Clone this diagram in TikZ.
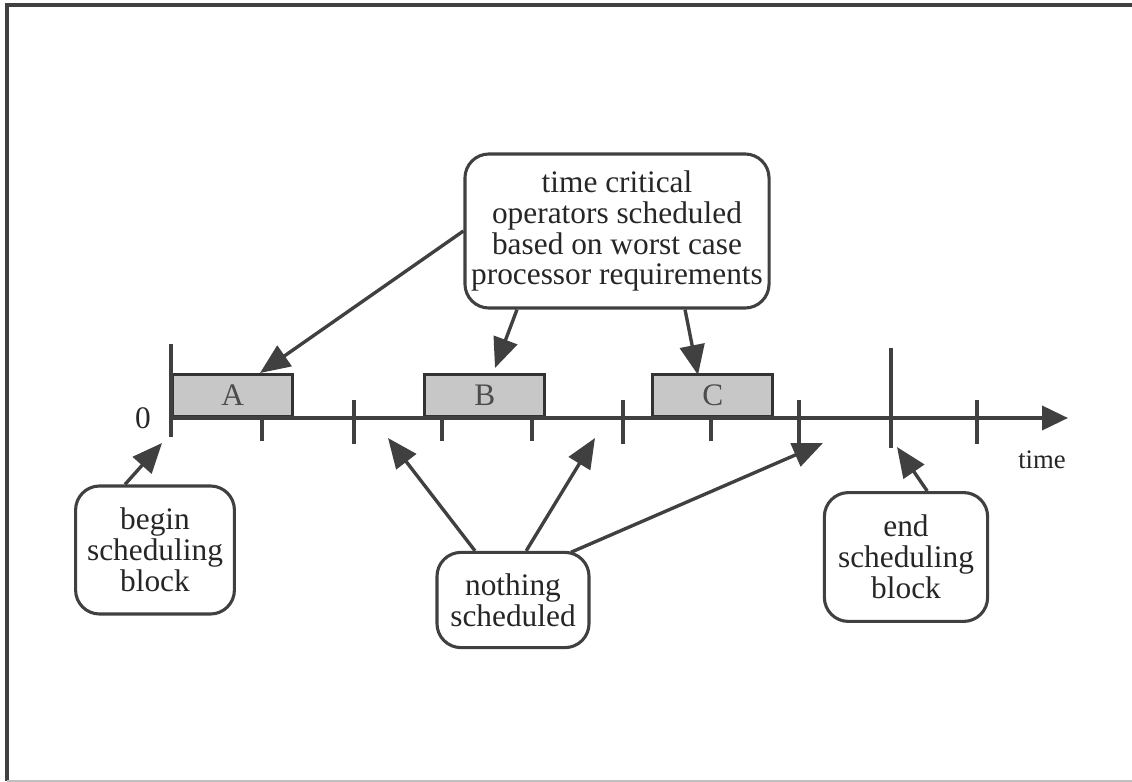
\documentclass[tikz,border=0pt]{standalone}
\usepackage{fontspec}
\setmainfont{Liberation Serif}
\usetikzlibrary{arrows.meta}

\tikzset{
  callout/.style={draw=black!75, line width=2.2pt, rounded corners=0.6cm,
    align=center, inner sep=0pt, text=black!85},
  pointer/.style={draw=black!75, line width=2.4pt,
    -{Triangle[length=0.75cm,width=0.62cm]}},
  tickmark/.style={draw=black!75, line width=2.2pt},
  slot/.style={draw=black!80, line width=2.4pt, fill=black!22, text=black!70,
    minimum width=3cm, minimum height=1.05cm, anchor=south west}
}

\begin{document}
\begin{tikzpicture}[x=0.025cm, y=-0.025cm, font=\fontsize{22.3}{22}\selectfont]
  \useasboundingbox (0,0) rectangle (1132,782);
  % frame
  \draw[black!75, line width=2.4pt] (1132,5) -- (7,5) -- (7,781);
  \draw[black!25, line width=2pt] (7,781) -- (1132,781);

  % scheduled operators
  \node[slot] (opA) at (171,418) {A};
  \node[slot] (opB) at (423,418) {B};
  \node[slot] (opC) at (651,418) {C};

  % time axis
  \draw[tickmark, line width=2.8pt, -{Triangle[length=0.65cm,width=0.6cm]}]
    (171,418) -- (1068,418);
  \foreach \x in {262,442,532,711}
    \draw[tickmark] (\x,418) -- (\x,441);
  \foreach \x in {354,623,799,977}
    \draw[tickmark] (\x,400) -- (\x,444);
  \draw[tickmark] (171,344) -- (171,437);
  \draw[tickmark] (891,348) -- (891,448);
  \node[text=black!85] (zero) at (143,418) {0};
  \node[text=black!85, font=\fontsize{19}{20}\selectfont] (time) at (1042,460) {time};

  % arrow targets
  \coordinate (tA) at (260,373);
  \coordinate (tB) at (495,368);
  \coordinate (tC) at (698,375);
  \coordinate (tBegin) at (162,443);
  \coordinate (tGap1) at (388,438);
  \coordinate (tGap2) at (595,438);
  \coordinate (tGap3) at (823,443);
  \coordinate (tEnd) at (897,447);

  % callouts
  \node[callout, minimum width=7.6cm, minimum height=3.85cm] (crit) at (617,231)
    {time critical\\operators scheduled\\based on worst case\\processor requirements};
  \node[callout, minimum width=3.97cm, minimum height=3.2cm] (begin) at (155,550)
    {begin\\scheduling\\block};
  \node[callout, minimum width=3.8cm, minimum height=2.38cm] (none) at (513,600)
    {nothing\\scheduled};
  \node[callout, minimum width=4.08cm, minimum height=3.22cm] (endblk) at (906,557)
    {end\\scheduling\\block};

  \draw[pointer] (crit.west) -- (tA);
  \draw[pointer] ([xshift=-2.5cm]crit.south) -- (tB);
  \draw[pointer] ([xshift=1.7cm]crit.south) -- (tC);
  \draw[pointer] ([xshift=-0.75cm]begin.north) -- (tBegin);
  \draw[pointer] ([xshift=-0.95cm]none.north) -- (tGap1);
  \draw[pointer] ([xshift=0.33cm]none.north) -- (tGap2);
  \draw[pointer] ([xshift=1.45cm,yshift=-1pt]none.north) -- (tGap3);
  \draw[pointer] ([xshift=0.53cm]endblk.north) -- (tEnd);
\end{tikzpicture}
\end{document}
